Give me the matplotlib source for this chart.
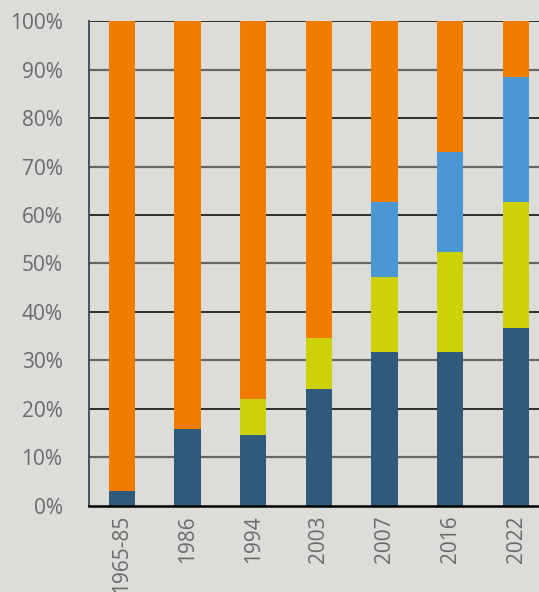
import matplotlib.pyplot as plt
import numpy as np

# data (percent shares per survey year)
years = ['1965-85', '1986', '1994', '2003', '2007', '2016', '2022']
dark_blue = [3.1, 15.9, 14.6, 24.1, 31.7, 31.7, 36.8]
yellow = [0, 0, 7.5, 10.5, 15.5, 20.7, 25.9]
light_blue = [0, 0, 0, 0, 15.5, 20.5, 25.8]
orange = [96.9, 84.1, 77.9, 65.4, 37.3, 27.1, 11.5]
y_ticks = [0, 10, 20, 30, 40, 50, 60, 70, 80, 90, 100]

BG = '#dcdcd9'
plt.rcParams['font.family'] = ['Open Sans', 'DejaVu Sans']

fig = plt.figure(figsize=(5.39, 5.92), dpi=100, facecolor=BG)
ax = fig.add_axes([0.165, 0.1453, 0.835, 0.8192])
ax.set_facecolor(BG)

x = np.arange(len(years))
w = 0.4
series = [(dark_blue, '#2f5a7b'), (yellow, '#cdd10a'),
          (light_blue, '#4a97d4'), (orange, '#f07d00')]
bottom = np.zeros(len(years))
for vals, col in series:
    ax.bar(x, vals, w, bottom=bottom, color=col, zorder=3)
    bottom += np.array(vals)

# alternating grid lines
for t in y_ticks[1:]:
    col = '#111111' if t % 20 == 0 else '#666666'
    lw = 1.2 if t % 20 == 0 else 1.6
    ax.axhline(t, color=col, lw=lw, zorder=1)

ax.set_xlim(-0.5, 6.35)
ax.set_ylim(0, 100)
ax.set_yticks(y_ticks)
ax.set_yticklabels([f'{t}%' for t in y_ticks])
ax.set_xticks(x)
ax.set_xticklabels(years, rotation=90)
ax.tick_params(axis='both', length=0, labelsize=15, labelcolor='#6a6a6a')
ax.tick_params(axis='y', pad=19)
ax.tick_params(axis='x', pad=6.5)

for s in ['top', 'right']:
    ax.spines[s].set_visible(False)
ax.spines['left'].set_color('#3a4658')
ax.spines['left'].set_linewidth(1.3)
ax.spines['bottom'].set_color('#000000')
ax.spines['bottom'].set_linewidth(1.8)
ax.spines['bottom'].set_zorder(4)

plt.savefig('out.png', dpi=100, facecolor=BG)
